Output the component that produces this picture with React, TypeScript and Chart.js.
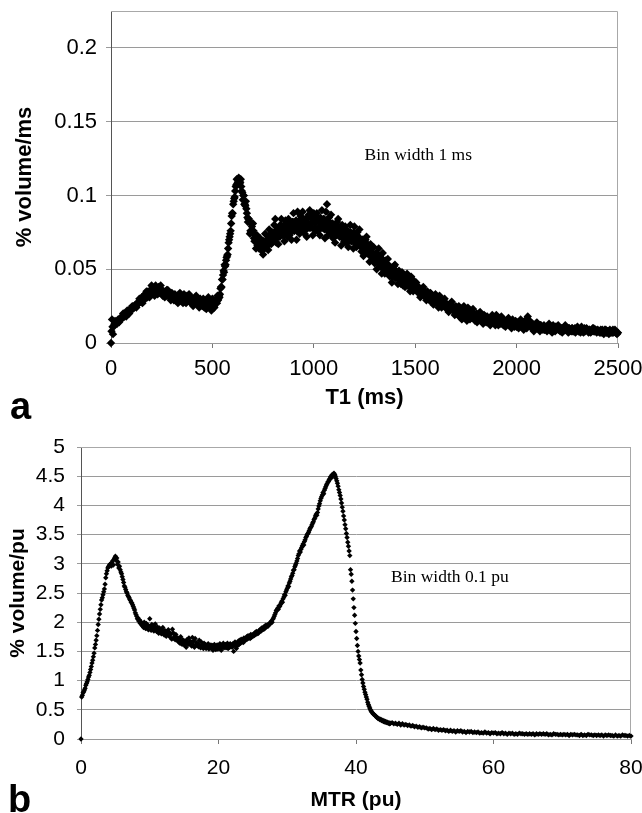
import React, { useEffect, useRef } from 'react';
import { Chart, registerables } from 'chart.js';

Chart.register(...registerables);

// ---------- Panel a: T1 histogram (values in % volume/ms) ----------
// bins at 0, 5, 10 ... 2500 ms
const T1_BIN_START = 0;
const T1_BIN_STEP = 5;
const T1_VALUES = [
  0.000, 0.016, 0.006, 0.012, 0.015, 0.014, 0.013, 0.016, 0.014, 0.016,
  0.016, 0.018, 0.020, 0.018, 0.020, 0.018, 0.022, 0.020, 0.020, 0.023,
  0.023, 0.025, 0.024, 0.024, 0.026, 0.024, 0.026, 0.028, 0.030, 0.028,
  0.030, 0.027, 0.032, 0.031, 0.030, 0.035, 0.031, 0.034, 0.031, 0.036,
  0.039, 0.034, 0.037, 0.032, 0.039, 0.034, 0.033, 0.038, 0.035, 0.039,
  0.035, 0.032, 0.035, 0.031, 0.033, 0.036, 0.036, 0.032, 0.034, 0.029,
  0.034, 0.032, 0.029, 0.033, 0.029, 0.031, 0.027, 0.032, 0.034, 0.029,
  0.031, 0.027, 0.033, 0.029, 0.027, 0.032, 0.029, 0.033, 0.029, 0.027,
  0.030, 0.025, 0.027, 0.031, 0.032, 0.027, 0.029, 0.024, 0.030, 0.027,
  0.025, 0.030, 0.024, 0.027, 0.023, 0.028, 0.031, 0.025, 0.028, 0.022,
  0.030, 0.025, 0.024, 0.029, 0.028, 0.032, 0.030, 0.031, 0.037, 0.038,
  0.043, 0.049, 0.053, 0.053, 0.058, 0.060, 0.068, 0.072, 0.076, 0.086,
  0.088, 0.096, 0.099, 0.106, 0.111, 0.109, 0.112, 0.108, 0.111, 0.103,
  0.097, 0.100, 0.094, 0.096, 0.088, 0.082, 0.084, 0.074, 0.075, 0.079,
  0.081, 0.071, 0.073, 0.064, 0.073, 0.069, 0.064, 0.071, 0.063, 0.066,
  0.060, 0.068, 0.074, 0.065, 0.070, 0.063, 0.077, 0.068, 0.067, 0.075,
  0.072, 0.080, 0.084, 0.068, 0.077, 0.067, 0.073, 0.080, 0.084, 0.074,
  0.079, 0.069, 0.083, 0.078, 0.072, 0.084, 0.073, 0.079, 0.070, 0.082,
  0.088, 0.076, 0.082, 0.070, 0.089, 0.077, 0.074, 0.086, 0.080, 0.089,
  0.080, 0.074, 0.083, 0.072, 0.078, 0.087, 0.090, 0.078, 0.085, 0.073,
  0.088, 0.082, 0.076, 0.088, 0.076, 0.082, 0.073, 0.084, 0.090, 0.078,
  0.084, 0.071, 0.089, 0.094, 0.073, 0.085, 0.078, 0.087, 0.077, 0.071,
  0.080, 0.068, 0.074, 0.082, 0.084, 0.073, 0.078, 0.066, 0.080, 0.074,
  0.069, 0.079, 0.068, 0.073, 0.065, 0.075, 0.080, 0.069, 0.074, 0.064,
  0.079, 0.068, 0.065, 0.075, 0.069, 0.077, 0.068, 0.062, 0.070, 0.059,
  0.063, 0.070, 0.072, 0.061, 0.066, 0.055, 0.067, 0.061, 0.056, 0.065,
  0.054, 0.059, 0.050, 0.060, 0.064, 0.053, 0.058, 0.047, 0.061, 0.050,
  0.047, 0.056, 0.051, 0.057, 0.050, 0.045, 0.051, 0.041, 0.046, 0.052,
  0.053, 0.045, 0.048, 0.040, 0.049, 0.045, 0.040, 0.048, 0.039, 0.043,
  0.038, 0.044, 0.047, 0.039, 0.042, 0.035, 0.045, 0.038, 0.035, 0.042,
  0.038, 0.041, 0.037, 0.034, 0.037, 0.031, 0.034, 0.037, 0.038, 0.032,
  0.034, 0.029, 0.035, 0.032, 0.029, 0.034, 0.028, 0.030, 0.026, 0.031,
  0.033, 0.027, 0.030, 0.024, 0.032, 0.026, 0.024, 0.029, 0.026, 0.030,
  0.026, 0.023, 0.026, 0.021, 0.023, 0.027, 0.028, 0.022, 0.024, 0.019,
  0.025, 0.022, 0.019, 0.025, 0.018, 0.021, 0.016, 0.022, 0.025, 0.018,
  0.021, 0.015, 0.024, 0.017, 0.016, 0.022, 0.019, 0.023, 0.018, 0.015,
  0.019, 0.014, 0.016, 0.020, 0.021, 0.016, 0.018, 0.013, 0.019, 0.016,
  0.014, 0.018, 0.014, 0.016, 0.012, 0.017, 0.019, 0.014, 0.016, 0.012,
  0.019, 0.014, 0.012, 0.017, 0.015, 0.018, 0.014, 0.012, 0.015, 0.011,
  0.013, 0.016, 0.017, 0.013, 0.015, 0.010, 0.016, 0.013, 0.011, 0.015,
  0.011, 0.013, 0.010, 0.014, 0.016, 0.012, 0.013, 0.009, 0.015, 0.011,
  0.010, 0.018, 0.012, 0.015, 0.012, 0.010, 0.012, 0.008, 0.010, 0.013,
  0.014, 0.010, 0.012, 0.008, 0.012, 0.011, 0.009, 0.012, 0.009, 0.010,
  0.008, 0.011, 0.013, 0.009, 0.011, 0.007, 0.012, 0.009, 0.008, 0.011,
  0.010, 0.012, 0.010, 0.008, 0.010, 0.007, 0.009, 0.011, 0.012, 0.009,
  0.010, 0.007, 0.010, 0.009, 0.008, 0.010, 0.008, 0.009, 0.007, 0.010,
  0.011, 0.008, 0.009, 0.007, 0.011, 0.008, 0.007, 0.010, 0.009, 0.010,
  0.009, 0.007, 0.009, 0.007, 0.008, 0.010, 0.010, 0.008, 0.009, 0.007,
  0.009, 0.008, 0.007, 0.009, 0.007, 0.008, 0.006, 0.009, 0.009, 0.007,
  0.008, 0.006, 0.009, 0.007, 0.007, 0.009, 0.008, 0.009, 0.007, 0.006,
  0.007,
];
// in-between bins at 2.5, 7.5 ... 2497.5 ms
const T1_MID_START = 2.5;
const T1_MID_STEP = 5;
const T1_MID_VALUES = [
  0.008, 0.011, 0.011, 0.013, 0.014, 0.014, 0.015, 0.015, 0.016, 0.016,
  0.018, 0.017, 0.018, 0.019, 0.019, 0.020, 0.021, 0.021, 0.022, 0.023,
  0.024, 0.023, 0.025, 0.025, 0.025, 0.026, 0.027, 0.027, 0.028, 0.029,
  0.031, 0.029, 0.031, 0.033, 0.031, 0.033, 0.035, 0.033, 0.035, 0.036,
  0.036, 0.034, 0.035, 0.037, 0.034, 0.035, 0.037, 0.034, 0.035, 0.036,
  0.036, 0.033, 0.034, 0.035, 0.032, 0.033, 0.034, 0.031, 0.032, 0.033,
  0.033, 0.030, 0.031, 0.032, 0.030, 0.031, 0.032, 0.029, 0.030, 0.031,
  0.031, 0.029, 0.030, 0.031, 0.028, 0.029, 0.031, 0.028, 0.029, 0.030,
  0.030, 0.027, 0.029, 0.030, 0.027, 0.028, 0.029, 0.026, 0.028, 0.028,
  0.029, 0.025, 0.027, 0.028, 0.025, 0.027, 0.028, 0.025, 0.026, 0.027,
  0.027, 0.025, 0.027, 0.028, 0.027, 0.029, 0.032, 0.033, 0.038, 0.043,
  0.046, 0.048, 0.052, 0.056, 0.059, 0.064, 0.070, 0.074, 0.081, 0.088,
  0.094, 0.098, 0.103, 0.107, 0.108, 0.111, 0.111, 0.109, 0.106, 0.102,
  0.100, 0.094, 0.093, 0.091, 0.085, 0.084, 0.082, 0.076, 0.076, 0.076,
  0.076, 0.069, 0.071, 0.072, 0.066, 0.069, 0.070, 0.064, 0.067, 0.069,
  0.069, 0.064, 0.067, 0.070, 0.066, 0.070, 0.073, 0.068, 0.071, 0.074,
  0.069, 0.073, 0.076, 0.071, 0.074, 0.078, 0.072, 0.076, 0.079, 0.073,
  0.080, 0.074, 0.077, 0.081, 0.075, 0.078, 0.082, 0.075, 0.079, 0.082,
  0.076, 0.079, 0.083, 0.076, 0.080, 0.083, 0.076, 0.080, 0.084, 0.076,
  0.080, 0.084, 0.077, 0.081, 0.085, 0.078, 0.081, 0.085, 0.078, 0.082,
  0.086, 0.078, 0.082, 0.085, 0.078, 0.082, 0.085, 0.078, 0.081, 0.084,
  0.077, 0.080, 0.083, 0.076, 0.079, 0.082, 0.074, 0.078, 0.081, 0.073,
  0.077, 0.080, 0.073, 0.076, 0.079, 0.072, 0.075, 0.078, 0.071, 0.074,
  0.077, 0.070, 0.073, 0.076, 0.069, 0.072, 0.075, 0.069, 0.072, 0.075,
  0.068, 0.070, 0.073, 0.066, 0.069, 0.071, 0.065, 0.067, 0.070, 0.063,
  0.065, 0.068, 0.061, 0.064, 0.066, 0.059, 0.062, 0.064, 0.057, 0.060,
  0.059, 0.061, 0.055, 0.057, 0.059, 0.052, 0.055, 0.057, 0.050, 0.053,
  0.054, 0.048, 0.051, 0.053, 0.047, 0.049, 0.051, 0.045, 0.048, 0.050,
  0.044, 0.046, 0.048, 0.043, 0.045, 0.047, 0.042, 0.044, 0.046, 0.040,
  0.042, 0.044, 0.039, 0.041, 0.042, 0.038, 0.039, 0.041, 0.037, 0.038,
  0.039, 0.035, 0.037, 0.038, 0.034, 0.035, 0.036, 0.033, 0.034, 0.035,
  0.031, 0.033, 0.034, 0.030, 0.031, 0.033, 0.029, 0.030, 0.031, 0.028,
  0.029, 0.030, 0.027, 0.028, 0.029, 0.026, 0.027, 0.028, 0.025, 0.026,
  0.027, 0.024, 0.025, 0.026, 0.023, 0.024, 0.025, 0.022, 0.023, 0.024,
  0.020, 0.022, 0.023, 0.020, 0.021, 0.023, 0.019, 0.020, 0.022, 0.018,
  0.019, 0.021, 0.017, 0.019, 0.020, 0.017, 0.018, 0.020, 0.016, 0.018,
  0.020, 0.016, 0.017, 0.019, 0.015, 0.017, 0.018, 0.015, 0.016, 0.018,
  0.016, 0.017, 0.015, 0.016, 0.017, 0.014, 0.015, 0.017, 0.014, 0.015,
  0.016, 0.014, 0.015, 0.016, 0.013, 0.014, 0.016, 0.013, 0.014, 0.015,
  0.013, 0.014, 0.015, 0.012, 0.014, 0.015, 0.012, 0.013, 0.014, 0.012,
  0.014, 0.012, 0.013, 0.014, 0.011, 0.012, 0.014, 0.011, 0.012, 0.013,
  0.011, 0.012, 0.013, 0.011, 0.012, 0.013, 0.010, 0.011, 0.012, 0.010,
  0.012, 0.010, 0.011, 0.012, 0.010, 0.010, 0.011, 0.009, 0.010, 0.011,
  0.009, 0.010, 0.011, 0.009, 0.010, 0.011, 0.009, 0.010, 0.011, 0.009,
  0.010, 0.009, 0.010, 0.010, 0.009, 0.009, 0.010, 0.009, 0.009, 0.010,
  0.009, 0.010, 0.008, 0.009, 0.010, 0.008, 0.009, 0.010, 0.008, 0.009,
  0.009, 0.008, 0.009, 0.010, 0.008, 0.009, 0.009, 0.008, 0.009, 0.009,
  0.008, 0.009, 0.008, 0.008, 0.009, 0.008, 0.008, 0.009, 0.008, 0.008,
  0.008, 0.008, 0.007, 0.008, 0.009, 0.007, 0.008, 0.008, 0.007, 0.008,
  0.008, 0.007, 0.008, 0.008, 0.007, 0.007, 0.008, 0.007, 0.007, 0.007,
];
const T1_X_TICKS = [0, 500, 1000, 1500, 2000, 2500];
const T1_Y_TICKS = [0, 0.05, 0.1, 0.15, 0.2];

// ---------- Panel b: MTR histogram (values in % volume/pu) ----------
const MTR_BIN_START = 0;
const MTR_BIN_STEP = 0.1;
const MTR_VALUES = [
  0.00, 0.72, 0.75, 0.79, 0.81, 0.84, 0.87, 0.92, 0.95, 0.98,
  1.02, 1.06, 1.09, 1.14, 1.19, 1.24, 1.30, 1.35, 1.41, 1.47,
  1.56, 1.62, 1.69, 1.77, 1.86, 1.96, 2.05, 2.14, 2.22, 2.30,
  2.38, 2.42, 2.47, 2.52, 2.57, 2.65, 2.76, 2.83, 2.88, 2.93,
  2.95, 2.97, 2.99, 3.00, 2.96, 3.02, 3.05, 2.98, 3.08, 3.10,
  3.13, 3.06, 3.10, 2.99, 3.03, 2.93, 2.96, 2.90, 2.86, 2.83,
  2.78, 2.73, 2.68, 2.62, 2.60, 2.56, 2.52, 2.50, 2.46, 2.44,
  2.42, 2.39, 2.37, 2.34, 2.33, 2.30, 2.27, 2.24, 2.21, 2.16,
  2.13, 2.10, 2.06, 2.07, 2.02, 2.04, 1.98, 2.01, 1.96, 1.94,
  1.97, 1.91, 2.00, 1.93, 1.89, 1.98, 1.90, 1.95, 1.87, 1.93,
  2.06, 1.92, 1.86, 1.96, 1.89, 1.94, 1.85, 1.91, 1.97, 1.88,
  1.84, 1.92, 1.87, 1.81, 1.90, 1.85, 1.88, 1.80, 1.86, 1.91,
  1.83, 1.78, 1.86, 1.80, 1.76, 1.84, 1.79, 1.87, 1.77, 1.82,
  1.74, 1.80, 1.71, 1.88, 1.82, 1.73, 1.76, 1.70, 1.79, 1.74,
  1.69, 1.73, 1.66, 1.71, 1.64, 1.75, 1.68, 1.62, 1.70, 1.67,
  1.61, 1.68, 1.64, 1.57, 1.70, 1.66, 1.62, 1.73, 1.63, 1.67,
  1.66, 1.59, 1.74, 1.62, 1.68, 1.57, 1.72, 1.61, 1.65, 1.60,
  1.63, 1.58, 1.69, 1.60, 1.56, 1.66, 1.59, 1.62, 1.55, 1.64,
  1.58, 1.62, 1.55, 1.60, 1.57, 1.63, 1.54, 1.59, 1.56, 1.61,
  1.55, 1.60, 1.52, 1.58, 1.62, 1.56, 1.53, 1.59, 1.61, 1.54,
  1.60, 1.55, 1.63, 1.57, 1.52, 1.61, 1.58, 1.64, 1.56, 1.59,
  1.62, 1.56, 1.59, 1.64, 1.55, 1.60, 1.57, 1.63, 1.58, 1.61,
  1.57, 1.63, 1.50, 1.61, 1.66, 1.59, 1.55, 1.64, 1.60, 1.68,
  1.62, 1.69, 1.64, 1.71, 1.66, 1.70, 1.65, 1.73, 1.68, 1.72,
  1.70, 1.75, 1.71, 1.77, 1.73, 1.76, 1.72, 1.79, 1.74, 1.78,
  1.76, 1.80, 1.77, 1.82, 1.79, 1.84, 1.80, 1.83, 1.81, 1.86,
  1.84, 1.88, 1.85, 1.90, 1.87, 1.91, 1.88, 1.93, 1.90, 1.95,
  1.92, 1.95, 1.93, 1.97, 1.96, 1.99, 1.98, 2.02, 2.00, 2.05,
  2.07, 2.10, 2.13, 2.16, 2.20, 2.21, 2.24, 2.22, 2.28, 2.27,
  2.30, 2.33, 2.36, 2.34, 2.40, 2.43, 2.47, 2.46, 2.52, 2.55,
  2.58, 2.62, 2.61, 2.67, 2.70, 2.74, 2.78, 2.80, 2.84, 2.89,
  2.90, 2.95, 2.98, 3.01, 3.05, 3.09, 3.14, 3.17, 3.22, 3.20,
  3.25, 3.28, 3.31, 3.34, 3.32, 3.38, 3.41, 3.45, 3.47, 3.50,
  3.52, 3.54, 3.57, 3.60, 3.62, 3.64, 3.67, 3.70, 3.72, 3.76,
  3.78, 3.82, 3.85, 3.83, 3.88, 3.94, 3.99, 4.03, 4.08, 4.12,
  4.15, 4.18, 4.22, 4.20, 4.26, 4.29, 4.32, 4.35, 4.37, 4.40,
  4.41, 4.44, 4.46, 4.49, 4.47, 4.52, 4.50, 4.54, 4.55, 4.53,
  4.50, 4.46, 4.42, 4.38, 4.33, 4.27, 4.22, 4.17, 4.11, 4.04,
  3.97, 3.90, 3.82, 3.75, 3.67, 3.60, 3.52, 3.45, 3.37, 3.30,
  3.22, 3.14, 2.90, 2.82, 2.70, 2.55, 2.40, 2.25, 2.12, 1.98,
  1.84, 1.72, 1.60, 1.50, 1.42, 1.36, 1.30, 1.18, 1.10, 1.02,
  0.96, 0.90, 0.85, 0.80, 0.76, 0.72, 0.68, 0.63, 0.59, 0.56,
  0.53, 0.50, 0.48, 0.46, 0.45, 0.43, 0.42, 0.41, 0.40, 0.39,
  0.37, 0.37, 0.35, 0.35, 0.34, 0.33, 0.34, 0.32, 0.31, 0.32,
  0.30, 0.31, 0.29, 0.30, 0.28, 0.29, 0.28, 0.27, 0.28, 0.26,
  0.27,
];
const MTR_TAIL_START = 45.25;
const MTR_TAIL_STEP = 0.25;
const MTR_TAIL_VALUES = [
  0.28, 0.26, 0.27, 0.25, 0.27, 0.24, 0.26, 0.24, 0.25, 0.23,
  0.24, 0.22, 0.23, 0.21, 0.22, 0.20, 0.21, 0.19, 0.20, 0.19,
  0.19, 0.17, 0.18, 0.16, 0.18, 0.16, 0.17, 0.15, 0.16, 0.15,
  0.16, 0.14, 0.15, 0.13, 0.15, 0.13, 0.14, 0.12, 0.14, 0.13,
  0.14, 0.12, 0.13, 0.11, 0.13, 0.12, 0.13, 0.11, 0.12, 0.11,
  0.12, 0.10, 0.11, 0.10, 0.12, 0.10, 0.11, 0.09, 0.11, 0.10,
  0.11, 0.09, 0.10, 0.09, 0.11, 0.09, 0.10, 0.08, 0.10, 0.09,
  0.10, 0.08, 0.09, 0.08, 0.10, 0.09, 0.09, 0.08, 0.09, 0.08,
  0.09, 0.08, 0.09, 0.07, 0.09, 0.08, 0.09, 0.08, 0.09, 0.08,
  0.09, 0.07, 0.08, 0.07, 0.09, 0.08, 0.08, 0.07, 0.08, 0.07,
  0.08, 0.07, 0.08, 0.06, 0.08, 0.07, 0.08, 0.07, 0.07, 0.06,
  0.08, 0.06, 0.07, 0.06, 0.08, 0.07, 0.07, 0.06, 0.07, 0.06,
  0.07, 0.06, 0.07, 0.05, 0.07, 0.06, 0.07, 0.06, 0.06, 0.05,
  0.07, 0.05, 0.06, 0.05, 0.07, 0.06, 0.06, 0.05, 0.06, 0.05,
];
const MTR_X_TICKS = [0, 20, 40, 60, 80];
const MTR_Y_TICKS = [0, 0.5, 1, 1.5, 2, 2.5, 3, 3.5, 4, 4.5, 5];

// ---------- helpers ----------
const SANS = '"Liberation Sans", Arial, sans-serif';
const SERIF = '"Liberation Serif", "Times New Roman", serif';

type Pt = { x: number; y: number };
function binsToPoints(start: number, step: number, values: number[]): Pt[] {
  return values.map((y, i) => ({ x: Math.round((start + i * step) * 1000) / 1000, y }));
}

type PanelSpec = {
  points: Pt[];
  xMin: number; xMax: number; yMin: number; yMax: number;
  xTicks: number[]; yTicks: number[];
  xTitle: string; yTitle: string;
  padding: { top: number; right: number; bottom: number; left: number };
  yWidth: number; xHeight: number;
  tickSize: number; titleSize: number;
  xTickLen: number; xTickPad: number; yTickLen: number; yTickPad: number;
  yTitlePad: number;
  radius: number;
  letter: string; letterX: number; letterY: number;
  note: string; noteX: number; noteY: number; noteSize: number;
};

function buildConfig(s: PanelSpec): any {
  const framePlugin = {
    id: 'frameAndNotes',
    beforeDatasetsDraw(chart: any) {
      const { ctx, chartArea } = chart;
      ctx.save();
      ctx.strokeStyle = '#a8a8a8';
      ctx.lineWidth = 1;
      const t = Math.round(chartArea.top) + 0.5;
      const r = Math.round(chartArea.right) - 0.5;
      ctx.beginPath();
      ctx.moveTo(chartArea.left, t);
      ctx.lineTo(r, t);
      ctx.lineTo(r, chartArea.bottom);
      ctx.stroke();
      ctx.restore();
    },
    afterDraw(chart: any) {
      const { ctx } = chart;
      ctx.save();
      ctx.fillStyle = '#000';
      ctx.textBaseline = 'alphabetic';
      ctx.textAlign = 'left';
      ctx.font = `${s.noteSize}px ${SERIF}`;
      const nx = chart.scales.x.getPixelForValue(s.noteX);
      const ny = chart.scales.y.getPixelForValue(s.noteY);
      ctx.fillText(s.note, nx, ny);
      ctx.font = `bold 38px ${SANS}`;
      ctx.fillText(s.letter, s.letterX, s.letterY);
      ctx.restore();
    },
  };

  return {
    type: 'scatter',
    data: {
      datasets: [
        {
          data: s.points,
          pointStyle: 'rectRot',
          pointRadius: s.radius,
          pointBorderWidth: 0,
          pointBackgroundColor: '#000',
          pointBorderColor: '#000',
          showLine: false,
          clip: false,
        },
      ],
    },
    options: {
      animation: false,
      responsive: false,
      maintainAspectRatio: false,
      devicePixelRatio: 1,
      events: [],
      layout: { padding: s.padding },
      plugins: { legend: { display: false }, tooltip: { enabled: false } },
      scales: {
        x: {
          type: 'linear',
          min: s.xMin,
          max: s.xMax,
          afterBuildTicks: (scale: any) => {
            scale.ticks = s.xTicks.map((v) => ({ value: v }));
          },
          afterFit: (scale: any) => {
            scale.height = s.xHeight;
            scale.paddingLeft = 0;
            scale.paddingRight = 0;
          },
          grid: {
            drawOnChartArea: false,
            drawTicks: true,
            tickLength: s.xTickLen,
            color: '#777',
          },
          border: { display: true, color: '#9a9a9a', width: 1 },
          ticks: {
            color: '#000',
            font: { family: SANS, size: s.tickSize },
            padding: s.xTickPad,
            maxRotation: 0,
            minRotation: 0,
            autoSkip: false,
            callback: (v: any) => String(v),
          },
          title: {
            display: true,
            text: s.xTitle,
            color: '#000',
            font: { family: SANS, size: s.titleSize, weight: 'bold' },
            padding: 0,
          },
        },
        y: {
          type: 'linear',
          min: s.yMin,
          max: s.yMax,
          afterBuildTicks: (scale: any) => {
            scale.ticks = s.yTicks.map((v) => ({ value: v }));
          },
          afterFit: (scale: any) => {
            scale.width = s.yWidth;
            scale.paddingTop = 0;
            scale.paddingBottom = 0;
          },
          grid: {
            drawOnChartArea: true,
            drawTicks: true,
            tickLength: s.yTickLen,
            color: '#9a9a9a',
            lineWidth: 1,
          },
          border: { display: true, color: '#555', width: 1 },
          ticks: {
            color: '#000',
            font: { family: SANS, size: s.tickSize },
            padding: s.yTickPad,
            autoSkip: false,
            callback: (v: any) => String(v),
          },
          title: {
            display: true,
            text: s.yTitle,
            color: '#000',
            font: { family: SANS, size: s.titleSize, weight: 'bold' },
            padding: { top: s.yTitlePad, bottom: 0 },
          },
        },
      },
    },
    plugins: [framePlugin],
  };
}

const PANEL_A: PanelSpec = {
  points: [
    ...binsToPoints(T1_BIN_START, T1_BIN_STEP, T1_VALUES),
    ...binsToPoints(T1_MID_START, T1_MID_STEP, T1_MID_VALUES),
  ],
  xMin: 0, xMax: 2500, yMin: 0, yMax: 0.225,
  xTicks: T1_X_TICKS, yTicks: T1_Y_TICKS,
  xTitle: 'T1 (ms)', yTitle: '% volume/ms',
  padding: { top: 11, right: 24, bottom: 9, left: 0 },
  yWidth: 111, xHeight: 68,
  tickSize: 22, titleSize: 22,
  xTickLen: 5, xTickPad: 8, yTickLen: 5, yTickPad: 9,
  yTitlePad: 12,
  radius: 4.2,
  letter: 'a', letterX: 10, letterY: 419,
  note: 'Bin width 1 ms', noteX: 1250, noteY: 0.124, noteSize: 17.5,
};

const PANEL_B: PanelSpec = {
  points: [
    ...binsToPoints(MTR_BIN_START, MTR_BIN_STEP, MTR_VALUES),
    ...binsToPoints(MTR_TAIL_START, MTR_TAIL_STEP, MTR_TAIL_VALUES),
  ],
  xMin: 0, xMax: 80, yMin: 0, yMax: 5,
  xTicks: MTR_X_TICKS, yTicks: MTR_Y_TICKS,
  xTitle: 'MTR (pu)', yTitle: '% volume/pu',
  padding: { top: 27, right: 11, bottom: 0, left: 0 },
  yWidth: 81, xHeight: 74,
  tickSize: 21, titleSize: 21,
  xTickLen: 5, xTickPad: 12, yTickLen: 4, yTickPad: 12,
  yTitlePad: 6,
  radius: 2.7,
  letter: 'b', letterX: 8, letterY: 392,
  note: 'Bin width 0.1 pu', noteX: 45.1, noteY: 2.69, noteSize: 17.5,
};

function Panel({ spec, top, height }: { spec: PanelSpec; top: number; height: number }) {
  const ref = useRef<HTMLCanvasElement | null>(null);
  useEffect(() => {
    if (!ref.current) return;
    const chart = new Chart(ref.current, buildConfig(spec));
    return () => chart.destroy();
  }, [spec]);
  return (
    <canvas
      ref={ref}
      width={642}
      height={height}
      style={{ position: 'absolute', left: 0, top, width: 642, height, display: 'block' }}
    />
  );
}

export default function App() {
  return (
    <div
      style={{
        position: 'absolute',
        left: 0,
        top: 0,
        width: 642,
        height: 813,
        background: '#fff',
        overflow: 'hidden',
      }}
    >
      <Panel spec={PANEL_A} top={0} height={420} />
      <Panel spec={PANEL_B} top={420} height={393} />
    </div>
  );
}
